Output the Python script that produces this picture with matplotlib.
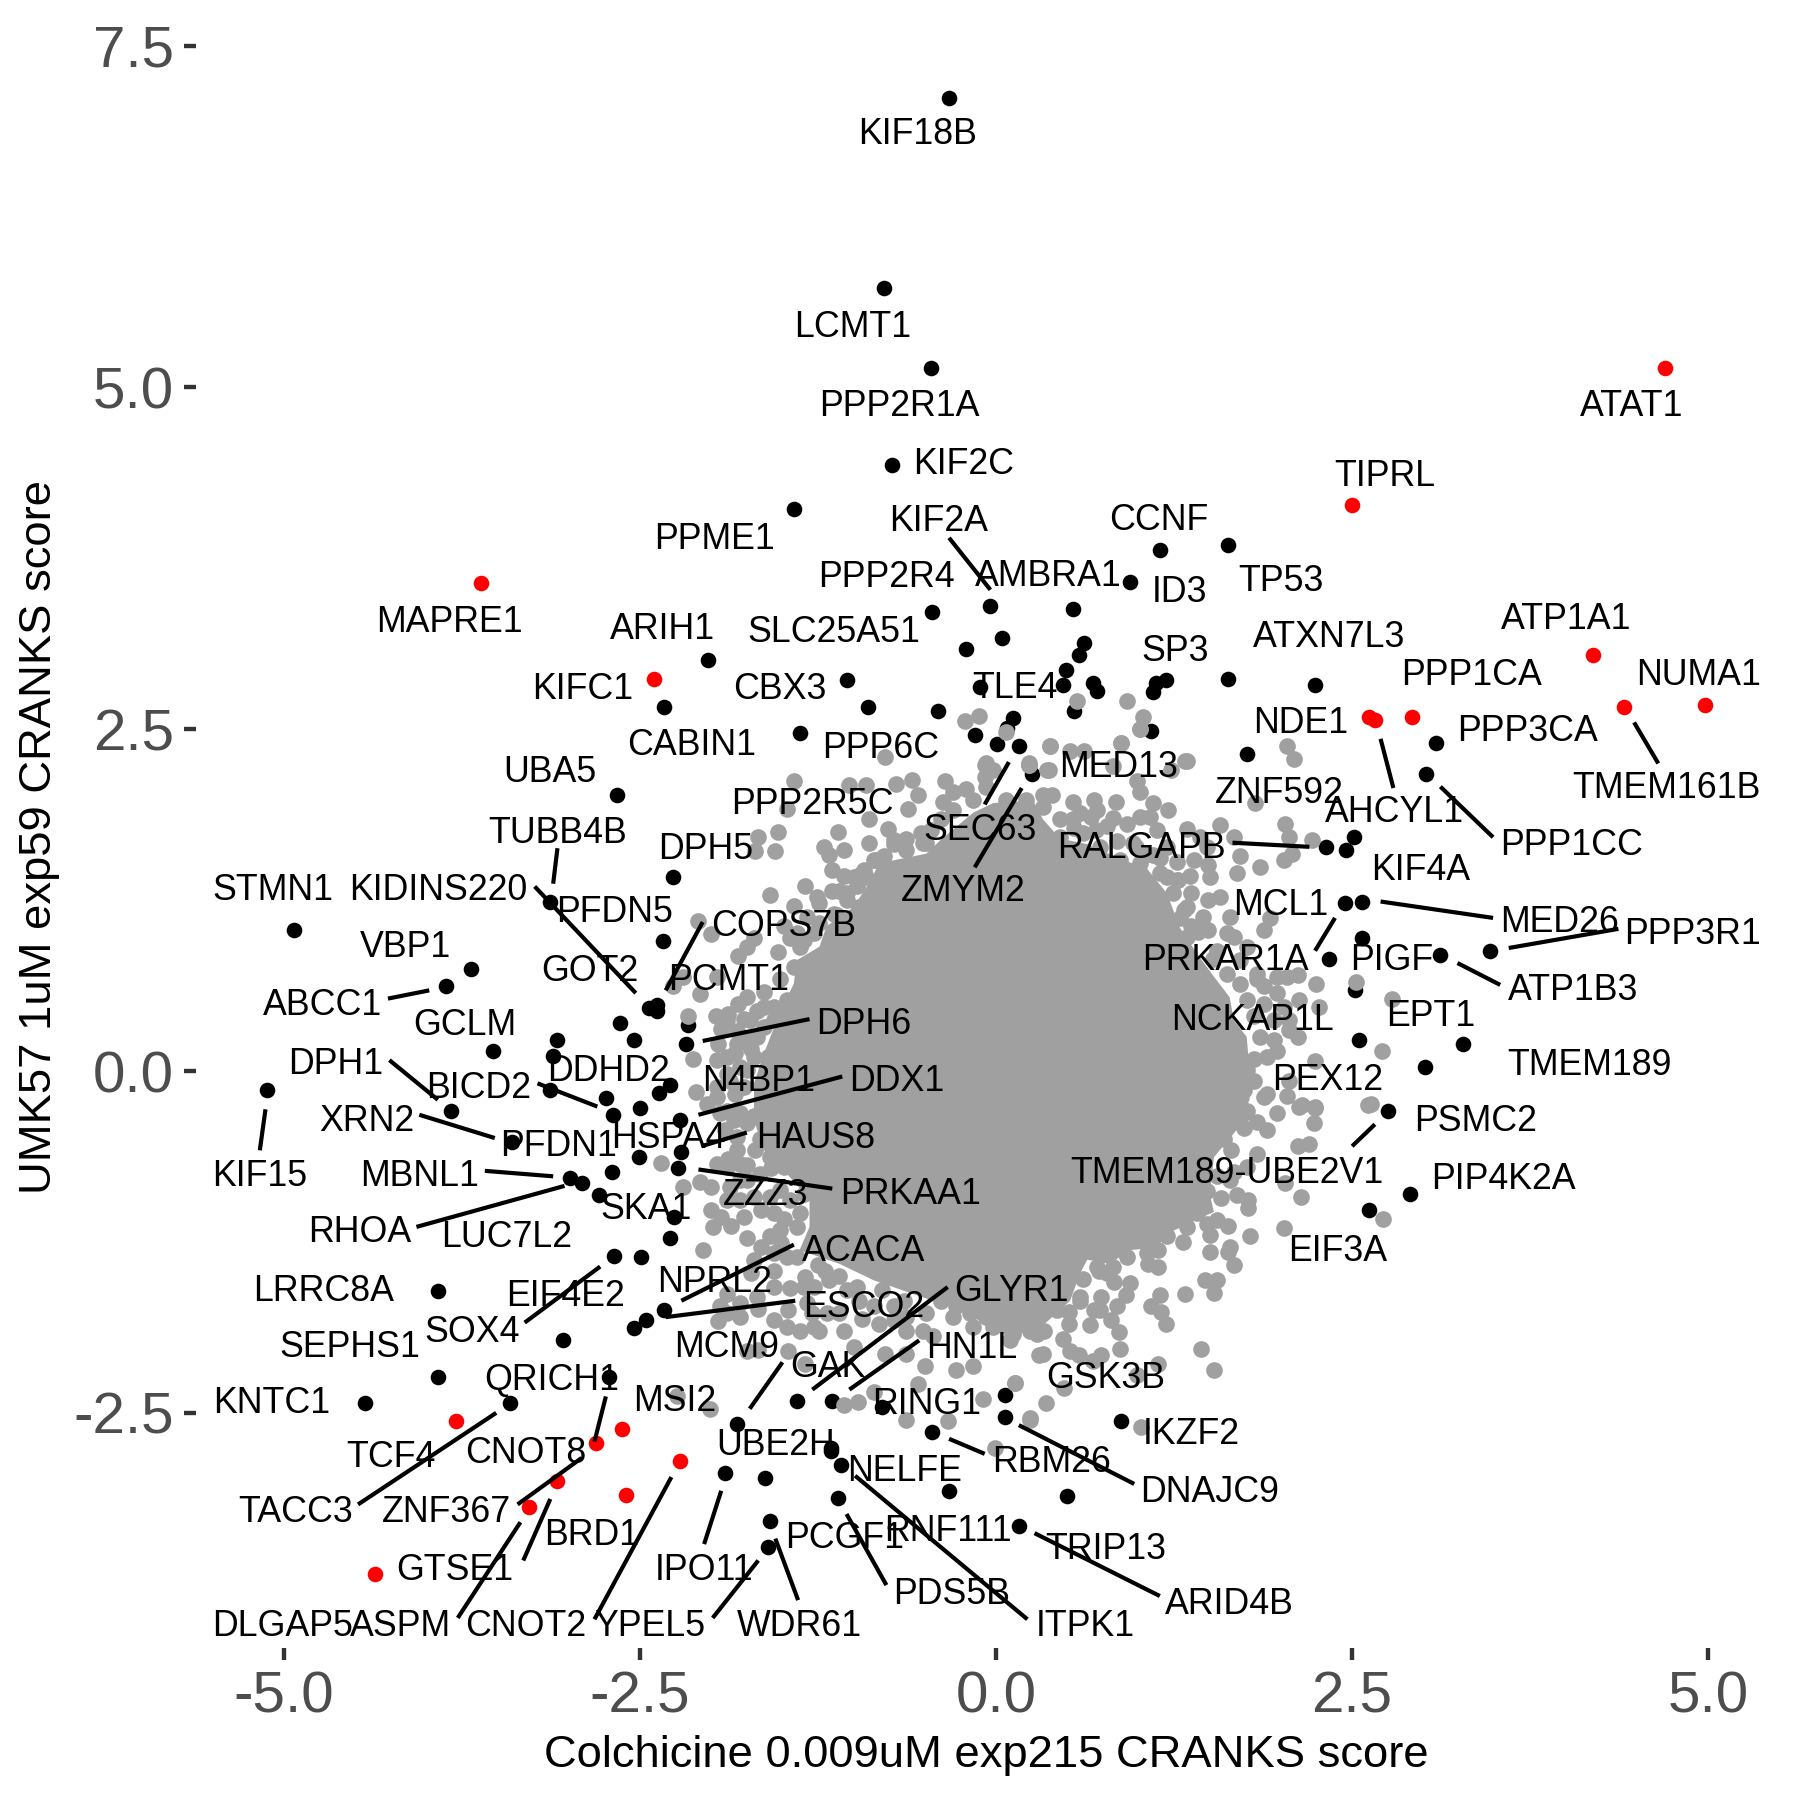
#!/usr/bin/env python3
import matplotlib
matplotlib.use('Agg')
import matplotlib.pyplot as plt

plt.rcParams['font.family'] = ['Liberation Sans', 'DejaVu Sans']

black_x = [-0.33,-0.79,-0.46,-0.73,-1.42,1.15,1.63,0.94,-0.04,-0.45,0.54,0.04,-0.21,0.62,0.58,0.49,0.47,0.68,0.71,-0.11,
           -0.41,0.12,0.08,-0.15,0.01,0.16,0.55,0.25,1.19,1.12,1.10,1.63,2.24,1.09,1.76,3.09,3.02,2.32,2.46,2.51,
           -2.02,-2.33,-1.05,-0.90,-1.38,-2.66,-2.27,-3.13,-2.34,-4.93,-3.69,-3.86,-2.44,-2.38,-2.38,-2.64,-2.16,-3.08,-2.54,-2.18,
           -3.53,-3.11,-2.29,-2.37,-3.13,-2.74,-2.50,-2.69,-3.83,-5.12,-2.22,-3.40,-2.21,-2.51,-2.23,-2.70,-2.99,-2.91,-2.79,
           -2.26,-2.29,-2.68,-2.49,-3.92,-2.33,-2.46,-2.54,-3.04,-3.92,-2.72,-4.43,-3.41,-1.40,-1.15,-0.80,-1.82,-1.16,-1.16,-1.09,-1.90,
           -1.62,-1.11,-1.59,-1.60,2.45,2.57,2.57,2.34,3.12,3.47,2.52,2.55,3.28,3.01,2.75,2.91,2.62,0.06,0.06,0.88,-0.45,-0.33,0.50,0.16]
black_y = [7.12,5.73,5.14,4.43,4.11,3.81,3.85,3.58,3.40,3.36,3.38,3.17,3.09,3.13,3.04,2.93,2.82,2.84,2.78,2.81,
           2.63,2.58,2.51,2.46,2.39,2.38,2.63,2.17,2.86,2.84,2.77,2.87,2.82,2.49,2.32,2.40,2.17,1.64,1.62,1.71,
           3.01,2.66,2.86,2.66,2.47,2.02,1.42,1.24,0.95,1.03,0.75,0.62,0.46,0.44,0.48,0.35,0.34,0.23,0.23,0.20,
           0.15,0.11,-0.10,-0.16,-0.14,-0.20,-0.27,-0.32,-0.29,-0.14,-0.36,-0.52,-0.59,-0.63,-0.71,-0.74,-0.78,-0.82,-0.91,
           -1.07,-1.22,-1.35,-1.36,-1.61,-1.75,-1.82,-1.88,-1.97,-2.24,-2.24,-2.43,-2.43,-2.41,-2.41,-2.46,-2.58,-2.76,-2.78,-2.88,-2.94,
           -2.98,-3.12,-3.29,-3.48,1.23,1.24,0.97,0.82,0.85,0.88,0.59,0.23,0.20,0.03,-0.29,-0.90,-1.02,-2.37,-2.53,-2.56,-2.64,-3.07,-3.11,-3.33]

red_x = [4.70,2.50,-3.62,4.19,4.98,4.41,2.92,2.62,2.66,-2.40,-3.79,-2.63,-2.81,-2.22,-3.08,-2.60,-3.28,-4.36]
red_y = [5.14,4.14,3.57,3.04,2.68,2.66,2.59,2.59,2.57,2.87,-2.56,-2.62,-2.72,-2.85,-3.00,-3.10,-3.19,-3.68]

# dense middle of the cloud, outline
core_x = [-1.63,-1.70,-1.70,-1.63,-1.52,-1.42,-1.40,-1.24,-1.19,-1.00,-0.89,-0.82,-0.49,-0.39,-0.16,-0.02,0.26,0.33,0.45,0.64,
          0.85,1.06,1.20,1.29,1.41,1.53,1.64,1.67,1.76,1.78,1.78,1.69,1.53,1.50,1.53,1.20,1.13,0.94,0.80,
          0.64,0.59,0.52,0.34,0.10,-0.07,-0.32,-0.53,-0.86,-1.10,-1.38,-1.31,-1.31,-1.47]
core_y = [-0.58,-0.36,-0.09,0.13,0.42,0.64,0.81,0.91,1.06,1.20,1.38,1.52,1.59,1.69,1.89,1.96,1.98,1.84,1.70,1.66,
          1.56,1.48,1.30,1.05,0.86,0.69,0.54,0.37,0.25,0.00,-0.21,-0.43,-0.63,-0.90,-1.03,-1.19,-1.29,-1.31,-1.41,
          -1.38,-1.48,-1.68,-1.85,-1.95,-1.85,-1.72,-1.65,-1.53,-1.41,-1.31,-1.14,-0.94,-0.75]

# separate grey points around the core
gray_x = [-0.78,-1.42,-1.03,-0.91,-0.70,-0.59,-0.55,-0.36,-0.30,-0.37,-0.16,-1.47,-0.89,-0.62,-1.53,-1.67,-1.69,-1.55,-1.11,-0.76,
          -1.21,-1.17,-1.07,-0.89,-0.72,-0.63,-0.53,-0.49,-0.84,-1.15,-1.07,-0.93,-1.34,-1.26,-1.59,-1.15,-1.42,-2.09,-2.00,-1.70,
          -1.75,-1.81,-1.53,-1.45,-1.35,-2.27,-2.08,-2.20,-1.96,-1.75,-1.63,-1.56,-1.81,-1.68,-2.16,-1.97,-1.88,-1.77,-1.93,-1.82,
          -1.95,-2.13,-1.83,-1.73,-2.11,-1.96,-1.83,-1.89,-1.75,
          -2.35,-2.20,-2.08,-2.00,-1.96,-1.88,-1.82,-1.75,-1.90,-1.69,-1.75,-1.58,-1.80,-2.00,-1.93,-1.99,-1.86,-1.77,-1.75,-1.80,-1.65,
          -2.06,-1.49,-1.59,-1.65,-1.51,-1.56,-1.72,-1.45,-1.34,-1.20,-1.89,-1.80,-1.94,-1.67,-1.95,-1.46,-1.29,-1.38,-1.24,-1.07,
          -0.94,-0.72,-0.82,-0.63,-1.75,-1.67,-1.46,-1.34,-1.00,-0.78,-0.63,-0.50,-0.28,-0.16,0.13,-0.09,-1.07,-0.97,-0.86,-0.55,
          -0.63,-0.34,0.24,-0.01,0.30,-2.24,-2.01,-0.30,-0.16,-0.02,0.12,0.24,-0.51,-0.44,
          2.61,2.72,2.23,2.24,2.13,1.90,1.83,1.74,2.20,2.12,1.83,1.65,2.03,2.14,2.02,1.78,1.77,1.77,1.69,1.58,
          1.48,1.64,1.41,1.63,1.55,1.50,1.50,1.31,1.64,1.63,1.67,1.14,1.07,1.14,1.47,1.55,1.53,1.33,0.94,1.15,
          1.09,1.16,1.19,0.83,0.74,0.91,0.85,0.69,0.66,0.81,0.86,0.72,0.59,0.51,0.51,0.61,0.87,1.44,1.53,0.47,
          0.34,0.26,0.10,0.52,0.58,0.68,0.74,0.33,1.14,0.99,0.13,0.48,0.35,0.24,1.02,0.22,
          1.01,0.38,0.52,0.62,0.88,0.23,0.37,1.33,0.82,1.23,0.99,1.01,2.04,2.09,1.82,0.33,0.39,0.54,0.69,0.84,
          1.10,1.21,0.54,0.67,0.82,1.01,1.57,1.34,2.03,2.06,2.22,1.67,1.71,2.08,2.02,1.85,1.69,1.49,1.50,1.39,
          1.27,1.15,1.36,1.27,1.37,1.49,1.57,1.29,1.37,1.49,1.64,1.92,1.88,1.62,2.12,2.25,2.53,2.13,2.27,2.78,
          2.06,2.12,1.97,2.71,2.24,2.06,2.04,2.15,2.24,1.90,2.63,1.97,1.83,1.76,1.81,
          0.57,0.92,-0.12,-0.22,1.03,1.01,0.38,0.88,1.34,-0.08,-0.08,0.23,0.36,0.07]
gray_y = [2.30,2.12,2.09,2.09,2.10,2.13,2.02,2.12,2.04,1.97,1.98,1.92,1.84,1.92,1.75,1.71,1.61,1.61,1.75,1.77,
          1.64,1.58,1.62,1.67,1.69,1.70,1.74,1.67,1.54,1.47,1.43,1.47,1.35,1.27,1.29,1.32,1.21,1.10,1.00,0.97,
          0.91,0.84,0.87,0.97,0.96,0.62,0.56,0.69,0.69,0.54,0.58,0.47,0.49,0.44,0.40,0.40,0.42,0.38,0.31,0.29,
          0.20,0.09,0.13,0.23,-0.15,-0.19,-0.165,-0.02,0.01,
          -0.67,-0.85,-0.81,-0.85,-0.68,-0.64,-0.58,-0.38,-0.43,-0.58,-0.69,-0.71,-0.80,-1.02,-1.07,-1.14,-1.13,-1.07,-1.22,-0.94,-1.02,
          -1.31,-1.08,-1.21,-1.29,-1.26,-1.46,-1.48,-1.59,-1.51,-1.46,-1.63,-1.70,-1.72,-1.74,-1.83,-1.75,-1.77,-1.90,-1.90,-1.90,
          -1.81,-1.82,-1.85,-1.90,-2.05,-2.04,-2.05,-2.14,-2.02,-2.07,-2.07,-2.16,-2.19,-2.16,-2.28,-2.40,-2.44,-2.42,-2.35,-2.29,
          -2.55,-2.56,-2.54,-2.76,-2.08,-2.38,-2.47,-1.80,-1.87,-1.87,-1.92,-1.90,-1.90,-1.94,
          -0.25,-1.08,-0.38,-0.26,-0.26,-0.43,-0.37,-0.42,-0.53,-0.55,-0.61,-0.58,-0.82,-0.92,-1.15,-1.21,-1.00,-0.94,-0.91,-0.93,
          -0.88,-0.80,-0.82,-1.13,-1.09,-1.20,-1.32,-1.25,-1.29,-1.32,-1.42,-1.43,-1.41,-1.31,-1.53,-1.53,-1.62,-1.63,-1.55,-1.64,
          -1.72,-1.76,-1.85,-1.54,-1.65,-1.64,-1.72,-1.75,-1.86,-1.82,-1.91,-1.46,-1.65,-1.76,-1.85,-1.52,-2.03,-2.03,-2.19,-1.96,
          -1.90,-1.90,-1.97,-2.05,-2.08,-2.12,-2.08,-2.07,-2.14,-2.22,-2.28,-2.32,-2.43,-2.55,-2.60,-1.75,
          2.50,2.38,2.34,2.34,2.40,2.24,2.20,2.27,2.23,2.20,2.12,2.04,2.38,2.28,1.96,2.02,2.02,1.97,1.98,1.97,
          1.96,1.91,1.84,1.86,1.85,1.86,1.80,1.77,1.81,1.71,1.69,1.71,1.57,1.59,1.54,1.49,1.45,1.51,1.42,1.54,
          1.53,1.45,1.43,1.40,1.30,1.25,1.27,1.12,1.06,1.03,1.13,1.12,1.03,1.01,0.70,0.64,0.65,0.52,0.47,0.53,
          0.37,0.25,0.15,0.15,0.07,-0.07,-0.18,-0.25,-0.27,-0.17,-0.24,0.69,0.67,0.01,0.09,
          2.71,2.71,2.60,2.56,2.59,2.50,2.38,2.40,2.27,2.24,2.15,2.24,2.20,2.48]

# the crowded band just outside the core
band_x = [-1.42,-1.52,-1.47,-1.63,-1.52,-1.73,-1.63,-1.56,-1.68,-1.89,-1.82,-1.70,-1.80,-1.89,-1.96,-1.87,-1.77,-1.96,-2.03,-1.89,-1.80,
          -1.38,-1.28,-1.40,-1.49,-1.24,-1.33,-1.14,-1.24,-1.05,-1.10,-0.96,-0.98,-0.91,-0.86,-1.00,-0.79,-0.63,-0.51,-0.39,-0.30,-0.46,-0.21,-0.07,0.07,0.21,-0.07,-0.02,0.23,
          0.33,0.45,0.59,0.71,0.45,0.61,0.78,0.73,0.92,1.08,0.96,1.13,1.06,1.20,0.87,1.01,1.43,1.48,1.24,1.20,1.34,1.45,1.34,1.55,1.67,1.76,1.71,1.83,1.62,1.71,1.88,2.04,1.97,1.76,1.88,2.02,1.81,1.95,2.06,1.85,1.95,1.90,1.81,1.74,1.88,1.97,1.76,1.64,1.58,
          1.67,1.74,1.60,1.67,1.76,1.55,1.43,1.34,1.24,1.41,1.48,1.34,1.20,1.06,0.92,0.82,0.71,0.78,0.59,0.43,0.33,0.24,0.17,0.29,0.07,0.12,0.73,
          0.28,0.17,0.05,-0.07,-0.18,-0.28,-0.39,-0.49,-0.63,-0.72,-0.86,-0.96,-1.05,-1.10,-1.19,-1.28,-1.33,-1.17,-1.28,-1.35,-1.40,-1.47,-1.56,-1.52,-1.40,-1.38,-1.56,-1.45,-1.35,-1.52,-1.70,-1.59,-1.89,-1.87,-1.75,-1.66,-1.49,-1.59,-1.66,-1.82,-1.84,-1.94,-1.80,-1.89,-1.70,-1.56,-1.70,-1.68,-1.80,-1.56,-1.47,-1.89,
          1.15,1.28,0.98,1.10,0.70,0.85,0.55,1.32,1.42,1.52,-1.05,-0.95,-1.12,-0.72,-1.25,-1.10,-0.98,-0.80,-0.65,-1.58,-1.65,-1.72,-1.60]
band_y = [0.76,0.67,0.52,0.47,0.45,0.37,0.32,0.37,0.25,0.37,0.20,0.10,0.03,0.10,0.08,-0.07,-0.12,-0.12,-0.24,-0.29,-0.31,
          0.91,1.01,1.01,1.06,1.08,1.13,1.15,1.23,1.25,1.32,1.20,1.35,1.42,1.54,1.42,1.57,1.62,1.67,1.84,1.91,1.76,2.06,2.08,1.98,1.98,2.25,2.20,2.25,
          1.93,1.84,1.89,1.91,1.71,1.74,1.79,1.64,1.81,1.86,1.67,1.76,1.59,1.64,1.54,1.52,1.71,1.64,1.30,1.42,1.20,1.13,0.98,0.88,0.98,0.91,0.81,0.71,0.71,0.64,0.62,0.69,0.57,0.52,0.49,0.47,0.40,0.37,0.30,0.25,0.23,0.10,-0.07,-0.14,-0.19,-0.31,-0.29,-0.24,-0.31,
          -0.36,-0.31,-0.50,-0.74,-0.70,-0.77,-0.92,-0.99,-1.04,-1.04,-1.12,-1.14,-1.21,-1.33,-1.36,-1.43,-1.43,-1.48,-1.68,-1.75,-1.77,-1.87,-1.82,-1.92,-1.80,-1.90,-1.75,
          -1.77,-1.82,-1.77,-1.80,-1.77,-1.72,-1.68,-1.77,-1.80,-1.72,-1.72,-1.68,-1.60,-1.77,-1.77,-1.87,-1.70,-1.53,-1.58,-1.58,-1.36,-1.36,-1.33,-1.16,-1.14,-1.04,-1.04,-0.94,-0.90,-0.87,-0.92,-0.92,-0.94,-0.85,-0.80,-0.75,-0.70,-0.63,-0.50,-0.48,-0.36,-0.31,-0.68,-0.70,-0.33,-1.58,-1.38,-1.65,-1.80,-1.82,-1.87,-1.77,
          1.56,1.40,1.64,1.58,1.76,1.68,1.78,1.18,1.02,0.82,1.30,1.44,1.14,1.66,-1.42,-1.50,-1.58,-1.60,-1.68,-0.42,-0.12,0.16,0.10]

label_names = ['KIF18B','LCMT1','PPP2R1A','KIF2C','PPME1','KIF2A','PPP2R4','AMBRA1','CCNF','TIPRL','ATAT1','TP53','ID3',
               'MAPRE1','ARIH1','SLC25A51','ATP1A1','ATXN7L3','SP3','NUMA1','PPP1CA','KIFC1','CBX3','TLE4','NDE1','PPP3CA',
               'CABIN1','PPP6C','UBA5','MED13','PPP2R5C','ZNF592','TMEM161B','AHCYL1','TUBB4B','SEC63','RALGAPB','PPP1CC',
               'DPH5','KIF4A','STMN1','KIDINS220','ZMYM2','MCL1','PFDN5','COPS7B','MED26','PPP3R1','VBP1','PRKAR1A','PIGF',
               'GOT2','PCMT1','ATP1B3','ABCC1','GCLM','NCKAP1L','EPT1','DPH6','DPH1','TMEM189','DDHD2','DDX1','N4BP1','BICD2',
               'PEX12','XRN2','PSMC2','HAUS8','HSPA4','PFDN1','KIF15','MBNL1','TMEM189-UBE2V1','PIP4K2A','PRKAA1','ZZZ3','SKA1',
               'RHOA','LUC7L2','EIF3A','ACACA','NPRL2','GLYR1','LRRC8A','EIF4E2','ESCO2','SOX4','MCM9','SEPHS1','HN1L','GAK',
               'GSK3B','QRICH1','MSI2','KNTC1','RING1','IKZF2','UBE2H','TCF4','CNOT8','RBM26','NELFE','DNAJC9','TACC3','ZNF367',
               'BRD1','RNF111','PCGF1','TRIP13','GTSE1','IPO11','PDS5B','ARID4B','DLGAP5','ASPM','CNOT2','YPEL5','WDR61','ITPK1']
label_x = [-0.55,-1.01,-0.68,-0.23,-1.98,-0.40,-0.77,0.37,1.14,2.73,4.46,2.00,1.29,
           -3.84,-2.34,-1.14,4.00,2.34,1.26,4.93,3.34,-2.90,-1.52,0.13,2.14,3.73,
           -2.14,-0.81,-3.13,0.86,-1.29,1.99,4.71,2.80,-3.08,-0.11,1.02,4.04,
           -2.04,2.98,-5.08,-3.92,-0.23,2.00,-2.68,-1.49,3.96,4.89,-4.15,1.61,2.78,
           -2.85,-1.88,4.05,-4.73,-3.73,1.80,3.05,-0.93,-4.64,4.17,-2.72,-0.70,-1.67,-3.63,
           2.33,-4.42,3.37,-1.27,-2.30,-3.07,-5.17,-4.05,1.62,3.56,-0.60,-1.62,-2.46,
           -4.47,-3.44,2.40,-0.93,-1.98,0.11,-4.72,-3.02,-0.93,-3.68,-1.89,-4.54,-0.17,-1.18,
           0.77,-3.12,-2.26,-5.09,-0.49,1.37,-1.55,-4.25,-3.30,0.39,-0.64,1.50,-4.92,-3.86,
           -2.84,-0.34,-1.06,0.77,-3.80,-2.05,-0.31,1.64,-5.01,-4.18,-3.30,-2.43,-1.38,0.63]
label_y = [6.85,5.44,4.86,4.44,3.89,4.02,3.61,3.62,4.03,4.35,4.86,3.58,3.50,
           3.28,3.23,3.21,3.30,3.17,3.07,2.89,2.89,2.79,2.79,2.80,2.54,2.48,
           2.38,2.36,2.18,2.22,1.95,2.03,2.07,1.89,1.74,1.76,1.63,1.65,
           1.62,1.47,1.32,1.32,1.31,1.21,1.16,1.06,1.09,1.00,0.90,0.81,0.81,
           0.73,0.66,0.59,0.48,0.33,0.37,0.40,0.34,0.05,0.04,0.00,-0.08,-0.08,-0.13,
           -0.07,-0.37,-0.37,-0.49,-0.49,-0.55,-0.77,-0.77,-0.75,-0.79,-0.90,-0.91,-1.01,
           -1.18,-1.22,-1.32,-1.32,-1.55,-1.61,-1.61,-1.65,-1.73,-1.91,-2.02,-2.02,-2.03,-2.17,
           -2.25,-2.26,-2.42,-2.43,-2.44,-2.66,-2.74,-2.83,-2.80,-2.86,-2.93,-3.08,-3.23,-3.23,
           -3.40,-3.37,-3.42,-3.50,-3.65,-3.65,-3.83,-3.90,-4.06,-4.06,-4.06,-4.06,-4.06,-4.06]

# label connector lines
seg_x0 = [-0.33,0.09,0.18,4.48,2.70,3.12,1.66,2.70,2.38,3.60,3.24,2.66,0.16,-0.33,0.27,-0.99,-1.05,-1.55,-1.67,-1.93,
          -2.28,-3.34,-3.13,-2.91,-3.51,-2.74,-1.50,-0.34,-0.54,-1.42,-1.41,-2.09,-1.75,-1.08,-1.31,-2.06,-3.24,-3.08,-4.27,-4.26,
          -3.22,-4.05,-5.13,-3.59,-3.03,-2.78]
seg_y0 = [3.90,2.26,2.07,2.55,2.43,2.08,1.67,1.24,1.12,0.90,0.79,-0.39,-2.59,-2.69,-3.38,-2.96,-3.24,-3.42,-3.58,-3.07,
          -2.97,-3.30,-3.13,-2.83,-2.50,-2.38,-2.13,-1.58,-1.97,-1.27,-1.68,-0.72,-0.45,-0.04,0.38,1.09,1.35,1.63,0.53,0.08,
          -0.09,-0.32,-0.28,-0.73,-0.84,-1.43]
seg_x1 = [-0.04,-0.08,-0.15,4.65,2.79,3.49,2.20,3.49,2.24,4.37,3.54,2.50,0.97,-0.08,1.15,0.22,-0.77,-1.39,-1.99,-2.05,
          -2.82,-3.78,-3.32,-3.36,-4.48,-2.82,-1.73,-1.29,-1.03,-2.21,-2.32,-1.15,-2.07,-2.09,-2.06,-2.32,-2.53,-3.11,-3.98,-3.92,
          -2.80,-3.52,-5.17,-3.11,-4.07,-3.31]
seg_y1 = [3.52,1.95,1.49,2.25,2.07,1.71,1.64,1.12,0.88,1.04,0.63,-0.55,-3.02,-2.80,-3.84,-4.01,-3.76,-3.87,-4.00,-3.46,
          -4.01,-4.00,-3.58,-3.17,-3.17,-2.71,-2.47,-2.33,-2.33,-1.68,-1.80,-0.86,-0.55,-0.32,0.22,0.59,0.57,1.37,0.59,-0.21,
          -0.26,-0.49,-0.58,-0.77,-1.14,-1.84]

x_ticks = [-5.0,-2.5,0.0,2.5,5.0]
y_ticks = [-2.5,0.0,2.5,5.0,7.5]

fig = plt.figure(figsize=(6,6), dpi=300)
ax = fig.add_axes([196/1800, 152/1800, 1599/1800, 1642/1800])
ax.set_xlim(-5.618, 5.61)
ax.set_ylim(-4.22, 7.79)
for s in ax.spines.values():
    s.set_visible(False)

ax.scatter(black_x, black_y, s=14, c='black', linewidths=0, zorder=2, clip_on=False)
ax.fill(core_x, core_y, color='#A0A0A0', linewidth=0, zorder=3)
ax.scatter(gray_x, gray_y, s=16, c='#A0A0A0', linewidths=0, zorder=3, clip_on=False)
ax.scatter(band_x, band_y, s=16, c='#A0A0A0', linewidths=0, zorder=3, clip_on=False)
ax.scatter(red_x, red_y, s=14, c='red', linewidths=0, zorder=4, clip_on=False)

for i in range(len(seg_x0)):
    ax.plot([seg_x0[i],seg_x1[i]], [seg_y0[i],seg_y1[i]], color='black', lw=1.0, solid_capstyle='butt', zorder=5)
for i in range(len(label_names)):
    ax.text(label_x[i], label_y[i], label_names[i], fontsize=8.6, color='black', ha='center', va='center', zorder=6)

ax.set_xticks(x_ticks)
ax.set_xticklabels(['%.1f' % v for v in x_ticks])
ax.set_yticks(y_ticks)
ax.set_yticklabels(['%.1f' % v for v in y_ticks])
ax.tick_params(axis='both', length=2.8, width=1.05, color='#333333', labelcolor='#4D4D4D', labelsize=14, pad=2.5)
ax.set_xlabel('Colchicine 0.009uM exp215 CRANKS score', fontsize=10.9, va='center')
ax.xaxis.set_label_coords(0.494, -0.0655)
ax.set_ylabel('UMK57 1uM exp59 CRANKS score', fontsize=10.9, va='center')
ax.yaxis.set_label_coords(-0.0976, 0.494)
plt.savefig('out.png', dpi=300)
